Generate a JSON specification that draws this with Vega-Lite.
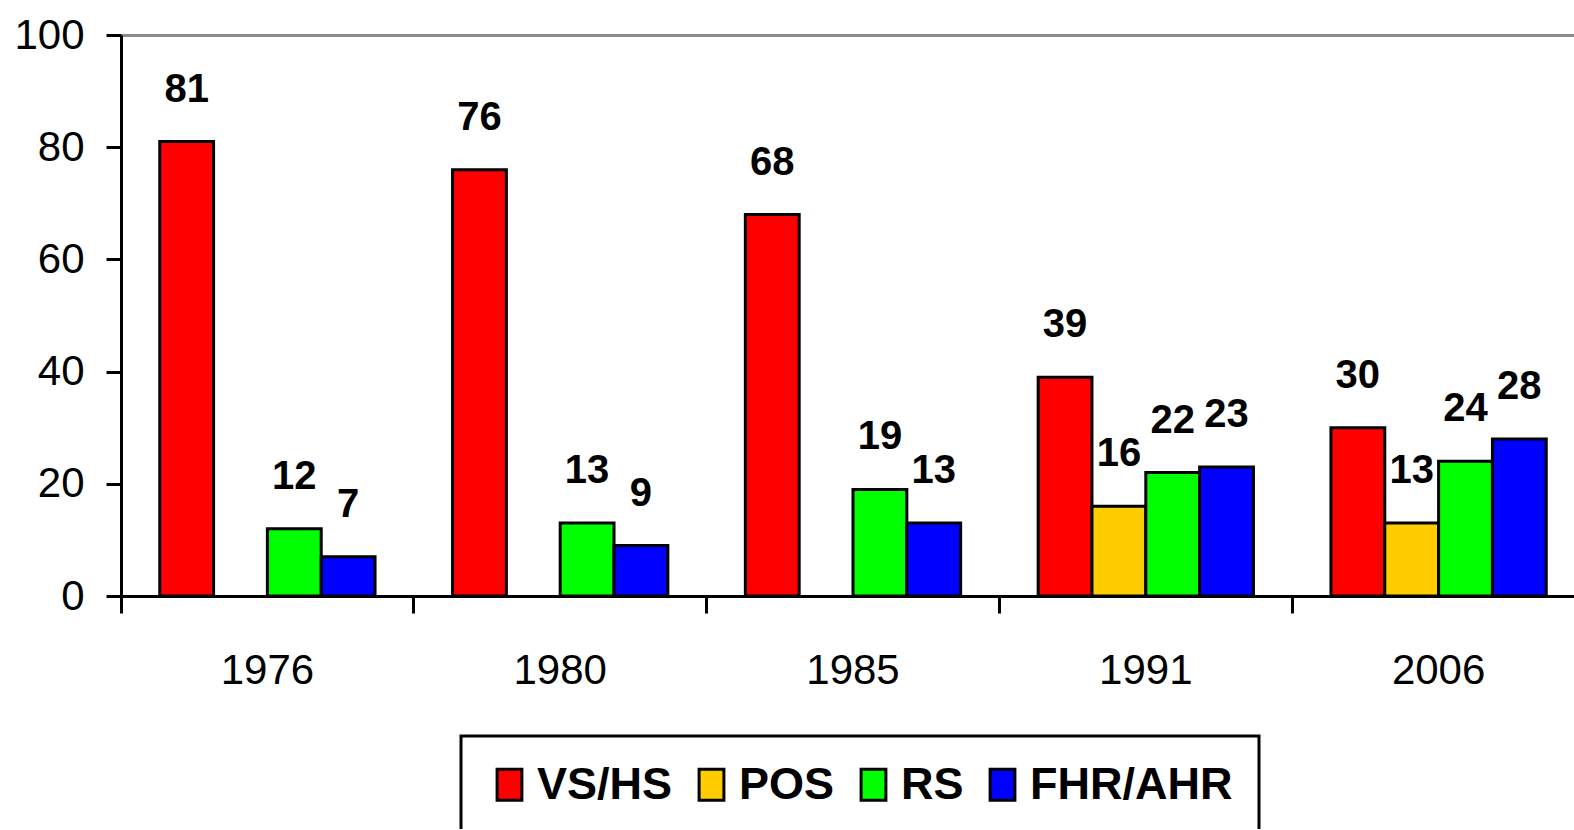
{
  "$schema": "https://vega.github.io/schema/vega-lite/v6.json",
  "width": 1574,
  "height": 561,
  "autosize": {"type": "fit-x", "contains": "padding"},
  "padding": {"left": 13, "top": 14, "right": -11, "bottom": 138},
  "background": "white",
  "config": {"view": {"stroke": null}, "font": "Liberation Sans"},
  "data": {
    "values": [
      {"year": "1976", "series": "VS/HS", "value": 81},
      {"year": "1976", "series": "RS", "value": 12},
      {"year": "1976", "series": "FHR/AHR", "value": 7},
      {"year": "1980", "series": "VS/HS", "value": 76},
      {"year": "1980", "series": "RS", "value": 13},
      {"year": "1980", "series": "FHR/AHR", "value": 9},
      {"year": "1985", "series": "VS/HS", "value": 68},
      {"year": "1985", "series": "RS", "value": 19},
      {"year": "1985", "series": "FHR/AHR", "value": 13},
      {"year": "1991", "series": "VS/HS", "value": 39},
      {"year": "1991", "series": "POS", "value": 16},
      {"year": "1991", "series": "RS", "value": 22},
      {"year": "1991", "series": "FHR/AHR", "value": 23},
      {"year": "2006", "series": "VS/HS", "value": 30},
      {"year": "2006", "series": "POS", "value": 13},
      {"year": "2006", "series": "RS", "value": 24},
      {"year": "2006", "series": "FHR/AHR", "value": 28}
    ]
  },
  "encoding": {
    "x": {
      "field": "year",
      "type": "nominal",
      "sort": null,
      "scale": {"paddingInner": 0, "paddingOuter": 0},
      "axis": {
        "title": null,
        "labelAngle": 0,
        "bandPosition": 0,
        "labelFont": "Liberation Sans",
        "labelFontSize": 42,
        "labelColor": "black",
        "labelPadding": 37,
        "tickSize": 17,
        "tickWidth": 3,
        "tickColor": "black",
        "domainColor": "black",
        "domainWidth": 3,
        "grid": false
      }
    },
    "xOffset": {
      "field": "series",
      "type": "nominal",
      "scale": {"domain": ["VS/HS", "POS", "RS", "FHR/AHR"], "paddingInner": 0, "paddingOuter": 0.72}
    },
    "y": {
      "field": "value",
      "type": "quantitative",
      "scale": {"domain": [0, 100], "nice": false},
      "axis": {
        "title": null,
        "values": [0, 20, 40, 60, 80, 100],
        "labelFont": "Liberation Sans",
        "labelFontSize": 42,
        "labelColor": "black",
        "labelPadding": 22,
        "tickSize": 15,
        "tickWidth": 3,
        "tickColor": "black",
        "domainColor": "black",
        "domainWidth": 3,
        "grid": true,
        "gridColor": {"condition": {"test": "datum.value === 100", "value": "#8c8c8c"}, "value": "rgba(0,0,0,0)"},
        "gridWidth": 3
      }
    }
  },
  "layer": [
    {
      "mark": {"type": "bar", "stroke": "black", "strokeWidth": 3, "opacity": 1},
      "encoding": {
        "color": {
          "field": "series",
          "type": "nominal",
          "scale": {"domain": ["VS/HS", "POS", "RS", "FHR/AHR"], "range": ["#FF0000", "#FFCC00", "#00FF00", "#0000FF"]},
          "legend": {
            "title": null,
            "orient": "none",
            "legendX": 340,
            "legendY": 701,
            "direction": "horizontal",
            "columns": 4,
            "symbolType": "M-0.8,-1H0.8V1H-0.8Z",
            "symbolSize": 961,
            "symbolStrokeColor": "black",
            "symbolStrokeWidth": 3,
            "symbolOpacity": 1,
            "labelFont": "Liberation Sans",
            "labelFontSize": 45,
            "labelFontWeight": "bold",
            "labelColor": "black",
            "labelOffset": 5,
            "labelLimit": 400,
            "columnPadding": 16,
            "padding": 26,
            "strokeColor": "black",
            "encode": {"legend": {"update": {"strokeWidth": {"value": 3}}}}
          }
        }
      }
    },
    {
      "mark": {"type": "text", "font": "Liberation Sans", "fontWeight": "bold", "fontSize": 40, "baseline": "alphabetic", "dy": -40, "color": "black"},
      "encoding": {"text": {"field": "value", "type": "quantitative"}}
    }
  ]
}
